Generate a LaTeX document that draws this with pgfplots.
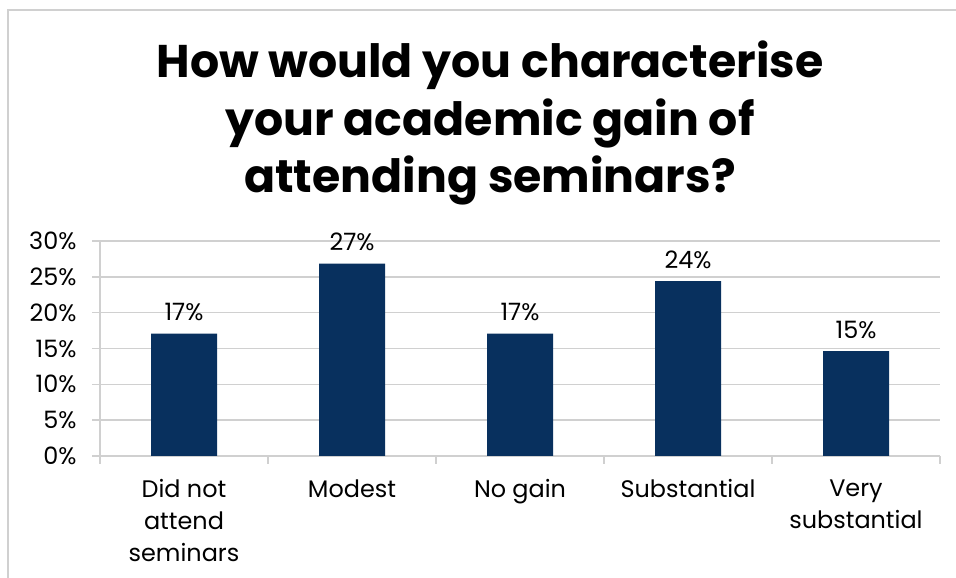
\documentclass[border=0pt]{standalone}
\usepackage{fontspec}
\setmainfont{Poppins}
\usepackage{pgfplots}
\pgfplotsset{compat=1.18}
\definecolor{barblue}{HTML}{08305E}
\definecolor{gridgray}{HTML}{D0D0D0}
\begin{document}
\begin{tikzpicture}[x=1bp,y=1bp]
\useasboundingbox (0,0) rectangle (956,578);
\draw[gridgray, line width=1.5bp] (8,-10) -- (8,568) -- (970,568);
\node[font=\fontsize{46}{58}\selectfont\bfseries, align=center] at (490,455) {How would you characterise\\your academic gain of\\attending seminars?};
\begin{axis}[
  at={(100bp,122bp)}, anchor=south west,
  scale only axis, width=840bp, height=215bp,
  xmin=0, xmax=5, ymin=0, ymax=30,
  axis lines=left,
  axis line style={-, gridgray, line width=1.5bp},
  ymajorgrids, grid style={gridgray, line width=1.5bp},
  tick style={gridgray, line width=1.5bp},
  major tick length=8bp, tick align=outside,
  xtick={0,1,2,3,4,5},
  x tick label as interval,
  xticklabels={{Did not\\attend\\seminars},{Modest},{No gain},{Substantial},{Very\\substantial}},
  xticklabel style={align=center, font=\fontsize{24}{32}\selectfont, text=black, yshift=-12bp},
  ytick={0,5,10,15,20,25,30},
  yticklabel={\pgfmathprintnumber{\tick}\%},
  yticklabel style={font=\fontsize{24}{28}\selectfont, text=black, xshift=-12bp},
  /pgf/number format/assume math mode=true,
  ybar, bar width=66bp,
  nodes near coords={\pgfmathprintnumber[fixed,precision=0]{\pgfplotspointmeta}\%},
  nodes near coords style={font=\fontsize{24}{28}\selectfont, text=black, yshift=9bp, /pgf/number format/assume math mode=true},
  clip=false,
]
\addplot[fill=barblue, draw=none] coordinates {(0.5,17.07) (1.5,26.83) (2.5,17.07) (3.5,24.39) (4.5,14.63)};
\end{axis}
\end{tikzpicture}
\end{document}
